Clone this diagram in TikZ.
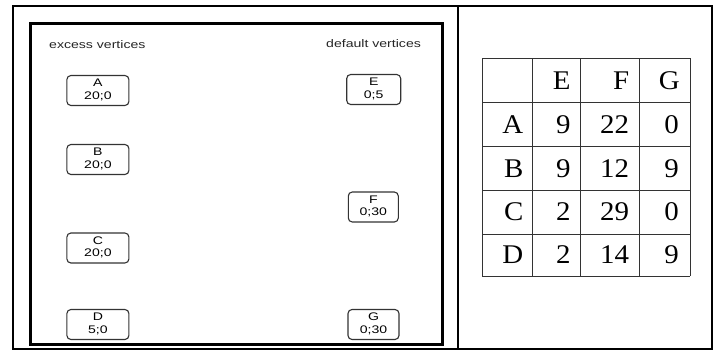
\documentclass[tikz,border=0pt]{standalone}
\usepackage{fontspec}
\setmainfont{Liberation Serif}
\newfontfamily\arialf{Liberation Sans}
\newcommand{\sxa}[1]{\scalebox{1.28}[1]{#1}}
\newcommand{\sxt}[1]{\scalebox{1.07}[1]{#1}}
\newcommand{\vlab}[2]{\sxa{\begin{tabular}{@{}c@{}}#1\\#2\end{tabular}}}
\begin{document}
\begin{tikzpicture}[x=1pt,y=-1pt,
  vert/.style={draw=black!80, line width=1.1pt, rounded corners=4pt,
    minimum height=30pt, inner sep=0pt,
    font=\arialf\fontsize{11}{12.7}\selectfont},
  headlab/.style={inner sep=0pt, anchor=base west, text=black!85,
    font=\arialf\fontsize{11}{13}\selectfont},
  cell/.style={inner sep=0pt, anchor=east, font=\fontsize{27}{30}\selectfont},
  grid/.style={draw=black!80, line width=1pt},
  frame/.style={draw=black, line width=2pt},
  thickframe/.style={draw=black, line width=3pt}]
\useasboundingbox (0,0) rectangle (717,351);
\fill[white] (0,0) rectangle (717,351);
% outer table
\draw[frame] (13,5.5) rectangle (711.5,349);
\draw[frame] (458,5.5) -- (458,349);
% inner frame
\draw[thickframe] (30.5,23.7) rectangle (442,344.5);
% labels
\node[headlab] (lx) at (49,48) {\sxa{excess vertices}};
\node[headlab] (ld) at (326,47.5) {\sxa{default vertices}};
% vertices
\node[vert, minimum width=62pt] (A) at (97.9,90.5) {\vlab{A}{20;0}};
\node[vert, minimum width=62pt] (B) at (97.9,159.5) {\vlab{B}{20;0}};
\node[vert, minimum width=62pt] (C) at (97.9,248) {\vlab{C}{20;0}};
\node[vert, minimum width=62pt] (D) at (97.9,324.5) {\vlab{D}{5;0}};
\node[vert, minimum width=54pt] (E) at (373.7,89.5) {\vlab{E}{0;5}};
\node[vert, minimum width=50pt] (F) at (373.3,207) {\vlab{F}{0;30}};
\node[vert, minimum width=51pt] (G) at (373.5,324.5) {\vlab{G}{0;30}};
% table grid
\foreach \xx in {482.3,532.7,580.7,639.3,690} \draw[grid] (\xx,58.3) -- (\xx,276);
\foreach \yy in {58.3,102.7,146.7,190,234,276} \draw[grid] (482.3,\yy) -- (690,\yy);
% table texts
\node[cell] (hE) at (570.7,80.5) {\sxt{E}};
\node[cell] (hF) at (629.3,80.5) {\sxt{F}};
\node[cell] (hG) at (680,80.5) {\sxt{G}};
\foreach \nm/\yy/\a/\b/\c [count=\i] in {A/124.7/9/22/0, B/168.3/9/12/9, C/212/2/29/0, D/255/2/14/9}{
  \node[cell] (r\i) at (523.5,\yy) {\sxt{\nm}};
  \node[cell] (r\i e) at (570.7,\yy) {\sxt{\a}};
  \node[cell] (r\i f) at (629.3,\yy) {\sxt{\b}};
  \node[cell] (r\i g) at (679,\yy) {\sxt{\c}};
}
\end{tikzpicture}
\end{document}
